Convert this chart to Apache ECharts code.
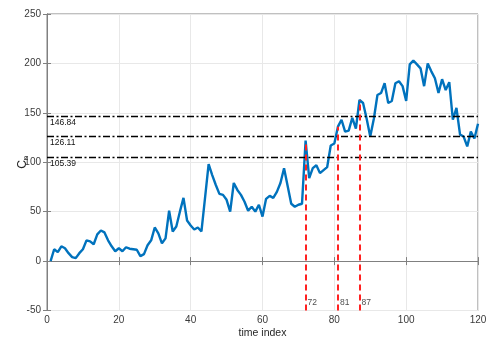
<!DOCTYPE html>
<html>
<head>
<meta charset="utf-8">
<title>C_n vs time index</title>
<script src="https://cdn.jsdelivr.net/npm/echarts@6/dist/echarts.min.js"></script>
<style>
  html, body { margin: 0; padding: 0; background: #fff; }
  #chart { width: 486px; height: 339px; }
</style>
</head>
<body>
<div id="chart"></div>
<script>
// C_n, one value per time index 1..120
var cn = [
  0, 12, 9, 15, 13, 8, 4, 3, 8, 12,
  21, 20, 17, 27, 31, 29, 21, 15, 10, 13,
  10, 14, 12.5, 12, 11.5, 5, 7, 16, 21, 34,
  28, 18, 23, 51, 30, 35, 50, 64, 41, 36,
  32, 34, 30, 64, 98, 87, 77, 68, 67, 62,
  50, 79, 72, 67, 60, 51, 55, 50, 57, 45,
  63, 66, 64, 70, 79, 94, 76, 58, 55, 57,
  58, 122, 84, 94, 97, 89, 92, 95, 117, 119,
  136, 143, 131, 132, 145, 134, 163, 160, 144, 126,
  144, 168, 170, 180, 160, 162, 180, 182, 177, 162,
  199, 203, 199, 195, 177, 200, 192, 185, 170, 184,
  173, 181, 143, 155, 128, 126, 116, 131, 124, 139
];
var thresholds = [146.84, 126.11, 105.39];
var peaks = [72, 81, 87];
var xTicks = [0, 20, 40, 60, 80, 100, 120];
var yTicks = [-50, 0, 50, 100, 150, 200, 250];

var font = 'Liberation Sans, Arial, Helvetica, sans-serif';
var axisGrey = '#808080';

var chart = echarts.init(document.getElementById('chart'), null, { renderer: 'canvas' });

function axisBase(ticks) {
  return {
    type: 'value',
    min: ticks[0],
    max: ticks[ticks.length - 1],
    interval: ticks[1] - ticks[0],
    axisLine: { show: true, lineStyle: { color: axisGrey, width: 1 } },
    axisTick: { show: true, inside: true, length: 4, lineStyle: { color: axisGrey } },
    splitLine: { show: true, lineStyle: { color: '#e8e8e8', width: 1 } },
    axisLabel: { color: '#3a3a3a', fontSize: 10, fontFamily: font }
  };
}

var xMain = axisBase(xTicks);
xMain.position = 'bottom';
xMain.axisLabel.margin = 5;
xMain.name = 'time index';
xMain.nameLocation = 'middle';
xMain.nameGap = 17;
xMain.nameMoveOverlap = false;
xMain.nameTextStyle = { color: '#262626', fontSize: 10.5, fontFamily: font };

var yMain = axisBase(yTicks);
yMain.position = 'left';
yMain.axisLabel.margin = 6;
yMain.name = '{c|C}{n|n}';
yMain.nameLocation = 'middle';
yMain.nameGap = 17;
yMain.nameMoveOverlap = false;
yMain.nameTextStyle = {
  color: '#262626',
  fontFamily: font,
  rich: {
    c: { fontSize: 12, lineHeight: 14, fontFamily: font, color: '#262626' },
    n: { fontSize: 8, lineHeight: 14, verticalAlign: 'bottom', fontFamily: font, color: '#262626' }
  }
};

// mirrored box axes (top / right), ticks only
var xTop = axisBase(xTicks);
xTop.position = 'top';
xTop.axisLabel = { show: false };
xTop.splitLine = { show: false };
var yRight = axisBase(yTicks);
yRight.position = 'right';
yRight.axisLabel = { show: false };
yRight.splitLine = { show: false };

chart.setOption({
  animation: false,
  grid: {
    left: 47, right: 8, top: 14, bottom: 28.5,
    outerBoundsMode: 'none',
    containLabel: false,
    show: true, borderColor: axisGrey, borderWidth: 1
  },
  xAxis: [xMain, xTop],
  yAxis: [yMain, yRight],
  series: [
    {
      name: 'Cn',
      type: 'line',
      data: cn.map(function (v, k) { return [k + 1, v]; }),
      symbol: 'none',
      lineStyle: { color: '#0072BD', width: 2.4 },
      z: 3,
      markLine: {
        silent: true,
        symbol: ['none', 'none'],
        lineStyle: { color: '#000', type: [7, 2.5, 2, 2.5], width: 1.3 },
        label: {
          show: true,
          position: 'insideStartBottom',
          distance: [3, 2],
          color: '#111',
          fontSize: 8.5,
          fontFamily: font
        },
        data: thresholds.map(function (t) {
          return { yAxis: t, label: { formatter: t.toFixed(2) } };
        })
      }
    },
    {
      name: 'peaks',
      type: 'scatter',
      data: peaks.map(function (p) { return [p, yTicks[0]]; }),
      symbolSize: 0,
      z: 5,
      label: {
        show: true,
        position: 'right',
        distance: 2,
        offset: [0, -8],
        color: '#222',
        fontSize: 8.5,
        fontFamily: font,
        formatter: function (d) { return d.value[0]; }
      },
      markLine: {
        silent: true,
        symbol: ['none', 'none'],
        lineStyle: { color: '#ff2020', type: [6, 4], width: 2 },
        label: { show: false },
        data: peaks.map(function (p) {
          return [{ coord: [p, yTicks[0]] }, { coord: [p, cn[p - 1]] }];
        })
      }
    }
  ]
});
</script>
</body>
</html>
